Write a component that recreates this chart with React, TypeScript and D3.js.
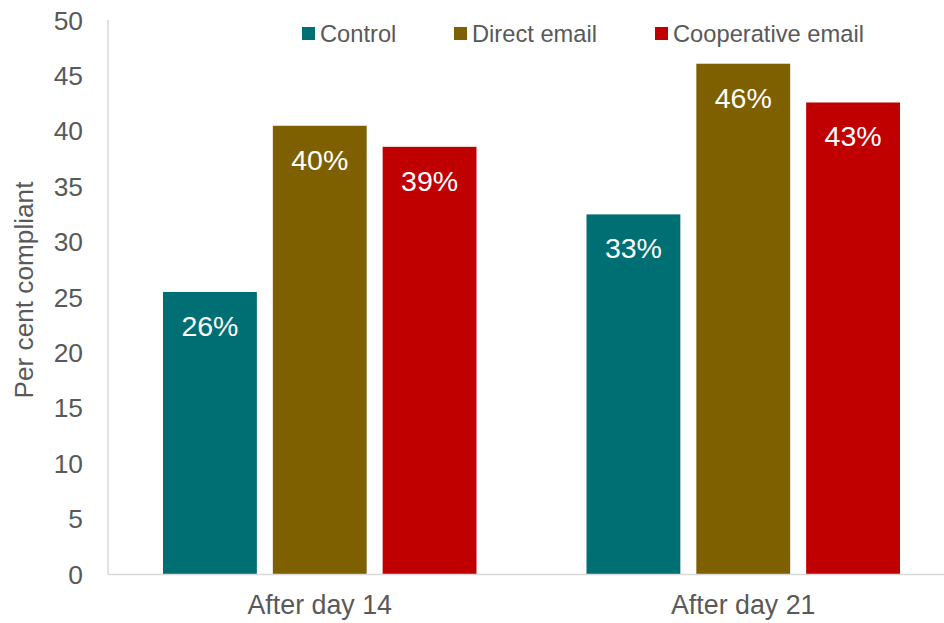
import React from "react";
import * as d3 from "d3";

const categories = ["After day 14", "After day 21"];
const seriesNames = ["Control", "Direct email", "Cooperative email"];
const controlValues = [25.5, 32.5];
const directValues = [40.5, 46.1];
const cooperativeValues = [38.6, 42.6];
const valueLabels = [
  ["26%", "40%", "39%"],
  ["33%", "46%", "43%"],
];
const yTicks = [0, 5, 10, 15, 20, 25, 30, 35, 40, 45, 50];
const colors = ["#006F74", "#7F6000", "#C00000"];

const W = 944;
const H = 623;
const FONT = "'Liberation Sans', Arial, sans-serif";
const TEXT = "#595959";

export default function App() {
  const series = [controlValues, directValues, cooperativeValues];
  const y = d3.scaleLinear().domain([0, 50]).range([574.5, 20.5]);
  const x0 = d3.scaleBand<string>().domain(categories).range([108, 955]).padding(0);
  const bw = x0.bandwidth();
  const x1 = d3
    .scaleBand<string>()
    .domain(seriesNames)
    .range([55, bw - 55])
    .paddingInner(16 / 110)
    .paddingOuter(0);

  const legendX = [302, 454, 655];

  return (
    <svg
      width={W}
      height={H}
      style={{ position: "absolute", left: 0, top: 0, background: "#fff" }}
      fontFamily={FONT}
    >
      {/* bars */}
      {categories.map((c, ci) =>
        seriesNames.map((s, si) => {
          const v = series[si][ci];
          const bx = (x0(c) as number) + (x1(s) as number);
          return (
            <g key={c + s}>
              <rect
                x={bx}
                y={y(v)}
                width={x1.bandwidth()}
                height={y(0) - y(v)}
                fill={colors[si]}
              />
              <text
                x={bx + x1.bandwidth() / 2}
                y={y(v) + 34}
                textAnchor="middle"
                dominantBaseline="central"
                fill="#fff"
                fontSize={28.5}
              >
                {valueLabels[ci][si]}
              </text>
            </g>
          );
        })
      )}
      {/* axes */}
      <line x1={108} x2={108} y1={20} y2={y(0)} stroke="#D9D9D9" strokeWidth={1.5} />
      <line x1={108} x2={W} y1={y(0)} y2={y(0)} stroke="#D9D9D9" strokeWidth={1.5} />
      {yTicks.map((t) => (
        <text
          key={t}
          x={83}
          y={y(t)}
          textAnchor="end"
          dominantBaseline="central"
          fill={TEXT}
          fontSize={26.4}
        >
          {t}
        </text>
      ))}
      {categories.map((c) => (
        <text
          key={c}
          x={(x0(c) as number) + bw / 2}
          y={614}
          textAnchor="middle"
          fill={TEXT}
          fontSize={26.8}
        >
          {c}
        </text>
      ))}
      <text
        transform={`translate(33,290) rotate(-90)`}
        textAnchor="middle"
        fill={TEXT}
        fontSize={26.2}
      >
        Per cent compliant
      </text>
      {/* legend */}
      {seriesNames.map((s, i) => (
        <g key={s}>
          <rect x={legendX[i]} y={27} width={13} height={13} fill={colors[i]} />
          <text
            x={legendX[i] + 18}
            y={34}
            dominantBaseline="central"
            fill={TEXT}
            fontSize={23.7}
          >
            {s}
          </text>
        </g>
      ))}
    </svg>
  );
}
